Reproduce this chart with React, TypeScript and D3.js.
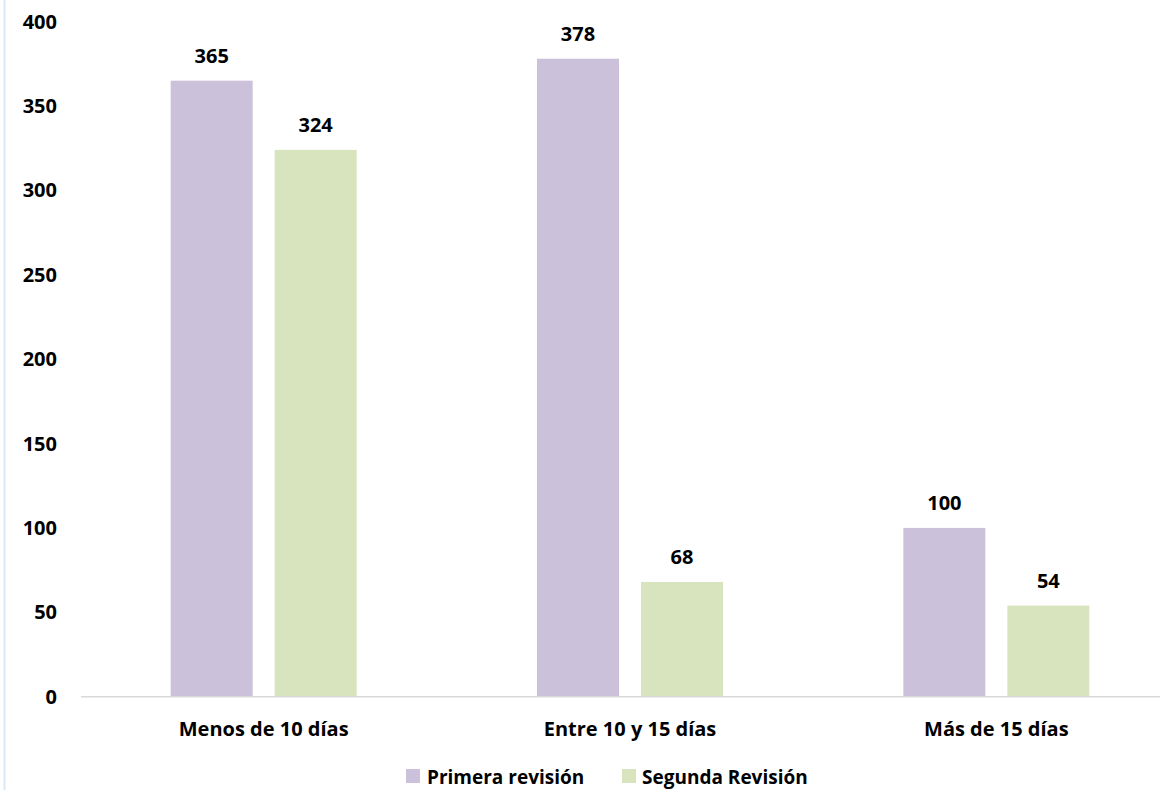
import React from "react";
import * as d3 from "d3";

const categories = ["Menos de 10 días", "Entre 10 y 15 días", "Más de 15 días"];
const seriesNames = ["Primera revisión", "Segunda Revisión"];
const primera = [365, 378, 100];
const segunda = [324, 68, 54];
const yTicks = [0, 50, 100, 150, 200, 250, 300, 350, 400];
const colors = ["#CBC1DA", "#D8E4BE"];

const W = 1165;
const H = 791;
const FONT = "'Open Sans', Lato, sans-serif";
const FS = 20;

export default function App() {
  const values = [primera, segunda];
  const y = d3.scaleLinear().domain([0, 400]).range([696.7, 21.6]);
  const x0 = d3.scaleBand<string>().domain(categories).range([80.5, 1179.5]);
  const x1 = d3
    .scaleBand<string>()
    .domain(seriesNames)
    .range([-93, 93])
    .paddingInner(0.2115);

  return (
    <svg
      width={W}
      height={H}
      style={{ position: "absolute", left: 0, top: 0, background: "#fff" }}
      fontFamily={FONT}
    >
      <rect x={0} y={0} width={W} height={H} fill="#fff" />
      <line x1={4.5} x2={4.5} y1={0} y2={790} stroke="#DCE8F2" strokeWidth={2} />
      {yTicks.map((t) => (
        <text
          key={t}
          x={57}
          y={y(t)}
          dy="0.35em"
          textAnchor="end"
          fontSize={FS}
          fontWeight={700}
          fill="#000"
        >
          {t}
        </text>
      ))}
      {categories.map((c, ci) => (
        <g key={c} transform={`translate(${x0(c)! + x0.bandwidth() / 2},0)`}>
          {seriesNames.map((s, si) => {
            const v = values[si][ci];
            const bx = x1(s)!;
            return (
              <g key={s}>
                <rect
                  x={bx}
                  y={y(v)}
                  width={x1.bandwidth()}
                  height={y(0) - y(v)}
                  fill={colors[si]}
                />
                <text
                  x={bx + x1.bandwidth() / 2}
                  y={y(v) - 18}
                  textAnchor="middle"
                  fontSize={FS}
                  fontWeight={700}
                  fill="#000"
                >
                  {v}
                </text>
              </g>
            );
          })}
          <text
            x={0}
            y={736}
            textAnchor="middle"
            fontSize={FS}
            fontWeight={700}
            fill="#000"
          >
            {c}
          </text>
        </g>
      ))}
      <line x1={81} x2={1160} y1={y(0)} y2={y(0)} stroke="#D9D9D9" strokeWidth={1.5} />
      <g>
        <rect x={406} y={769} width={14} height={14} fill={colors[0]} />
        <text x={427} y={784} fontSize={19} fontWeight={700} fill="#000">
          {seriesNames[0]}
        </text>
        <rect x={622} y={769} width={14} height={14} fill={colors[1]} />
        <text x={642} y={784} fontSize={19} fontWeight={700} fill="#000">
          {seriesNames[1]}
        </text>
      </g>
    </svg>
  );
}
